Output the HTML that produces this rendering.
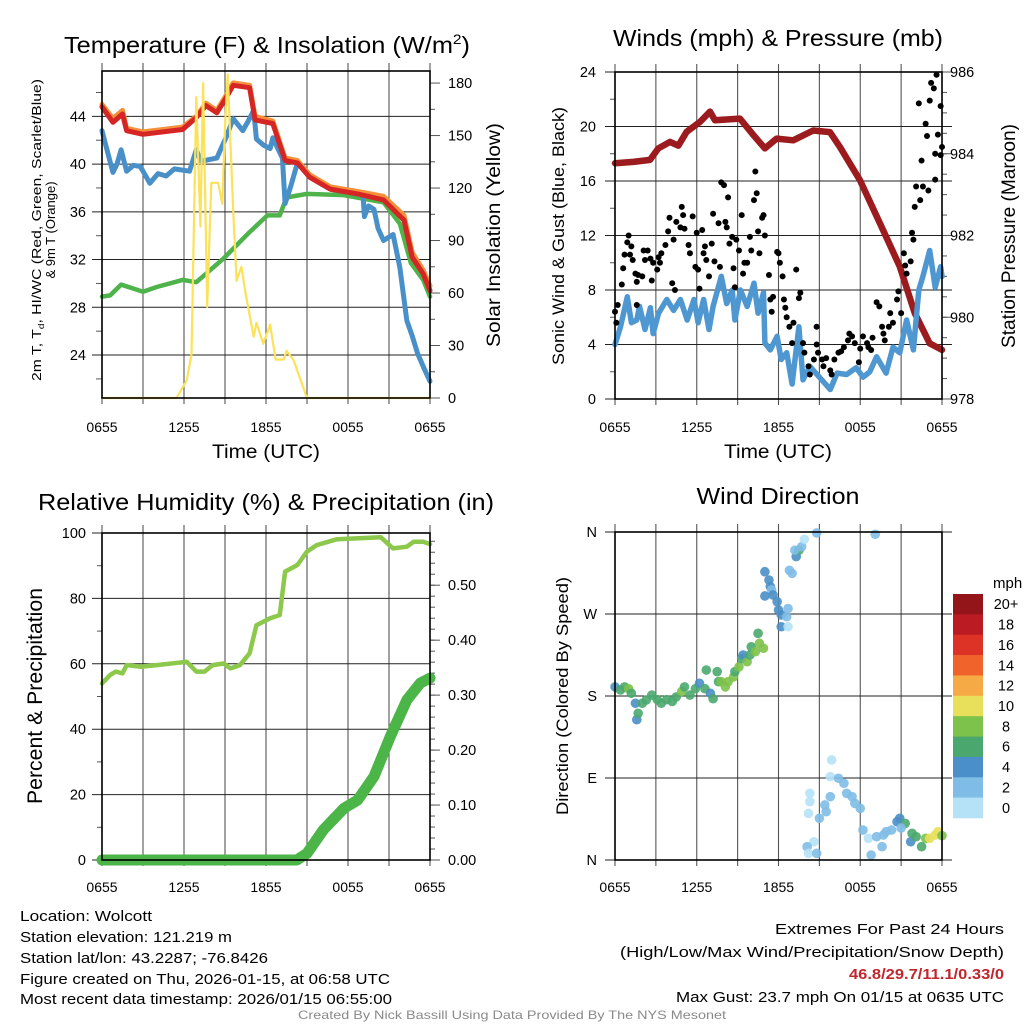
<!DOCTYPE html>
<html><head><meta charset="utf-8"><style>
html,body{margin:0;padding:0;background:#fff;}
svg{display:block;font-family:"Liberation Sans",sans-serif;}
</style></head><body>
<svg id="fig" xmlns="http://www.w3.org/2000/svg" width="1024" height="1024" viewBox="0 0 1024 1024">
<rect x="0" y="0" width="1024" height="1024" fill="#fff"/>
<g id="layer"></g>
<text x="267" y="53" font-size="23" text-anchor="middle" textLength="406" lengthAdjust="spacingAndGlyphs">Temperature (F) &amp; Insolation (W/m<tspan font-size="14" dy="-9">2</tspan><tspan dy="9">)</tspan></text>
<text x="778" y="46" font-size="23" text-anchor="middle" textLength="330" lengthAdjust="spacingAndGlyphs">Winds (mph) &amp; Pressure (mb)</text>
<text x="266" y="510" font-size="23" text-anchor="middle" textLength="456" lengthAdjust="spacingAndGlyphs">Relative Humidity (%) &amp; Precipitation (in)</text>
<text x="778" y="504" font-size="23" text-anchor="middle" textLength="163" lengthAdjust="spacingAndGlyphs">Wind Direction</text>
<text x="266" y="458" font-size="19" text-anchor="middle" textLength="108" lengthAdjust="spacingAndGlyphs">Time (UTC)</text>
<text x="778" y="458" font-size="19" text-anchor="middle" textLength="108" lengthAdjust="spacingAndGlyphs">Time (UTC)</text>
<text transform="translate(41,230) rotate(-90)" font-size="12.5" text-anchor="middle" textLength="302" lengthAdjust="spacingAndGlyphs">2m T, T<tspan font-size="8" dy="3">d</tspan><tspan dy="-3">, HI/WC (Red, Green, Scarlet/Blue)</tspan></text>
<text transform="translate(55,230) rotate(-90)" font-size="13" text-anchor="middle">&amp; 9m T (Orange)</text>
<text transform="translate(500,235) rotate(-90)" font-size="19" text-anchor="middle" textLength="224" lengthAdjust="spacingAndGlyphs">Solar Insolation (Yellow)</text>
<text transform="translate(564,236) rotate(-90)" font-size="17" text-anchor="middle" textLength="258" lengthAdjust="spacingAndGlyphs">Sonic Wind &amp; Gust (Blue, Black)</text>
<text transform="translate(1015,236) rotate(-90)" font-size="19" text-anchor="middle" textLength="224" lengthAdjust="spacingAndGlyphs">Station Pressure (Maroon)</text>
<text transform="translate(42,696) rotate(-90)" font-size="21" text-anchor="middle" textLength="216" lengthAdjust="spacingAndGlyphs">Percent &amp; Precipitation</text>
<text transform="translate(568,696) rotate(-90)" font-size="17" text-anchor="middle" textLength="238" lengthAdjust="spacingAndGlyphs">Direction (Colored By Speed)</text>
<text x="993" y="588" font-size="15">mph</text>
<g font-size="14.5" fill="#000">
<text x="20" y="921" textLength="132" lengthAdjust="spacingAndGlyphs">Location: Wolcott</text>
<text x="20" y="942" textLength="212" lengthAdjust="spacingAndGlyphs">Station elevation: 121.219 m</text>
<text x="20" y="963" textLength="248" lengthAdjust="spacingAndGlyphs">Station lat/lon: 43.2287; -76.8426</text>
<text x="20" y="984" textLength="370" lengthAdjust="spacingAndGlyphs">Figure created on Thu, 2026-01-15, at 06:58 UTC</text>
<text x="20" y="1004" textLength="372" lengthAdjust="spacingAndGlyphs">Most recent data timestamp: 2026/01/15 06:55:00</text>
</g>
<g font-size="14.5" text-anchor="end">
<text x="1004" y="934" textLength="229" lengthAdjust="spacingAndGlyphs">Extremes For Past 24 Hours</text>
<text x="1004" y="957" textLength="384" lengthAdjust="spacingAndGlyphs">(High/Low/Max Wind/Precipitation/Snow Depth)</text>
<text x="1004" y="979" font-weight="bold" fill="#c0272d" textLength="155" lengthAdjust="spacingAndGlyphs">46.8/29.7/11.1/0.33/0</text>
<text x="1004" y="1002" textLength="328" lengthAdjust="spacingAndGlyphs">Max Gust: 23.7 mph On 01/15 at 0635 UTC</text>
</g>
<text x="512" y="1019" font-size="12" fill="#8a8a8a" text-anchor="middle" textLength="428" lengthAdjust="spacingAndGlyphs">Created By Nick Bassill Using Data Provided By The NYS Mesonet</text>
</svg>
<script>
// ---------- data ----------
var timeTickLabels = ["0655","1255","1855","0055","0655"];
var tempTicks = [24,28,32,36,40,44];
var solarTicks = [0,30,60,90,120,150,180];
var windTicks = [0,4,8,12,16,20,24];
var presTicks = [978,980,982,984,986];
var rhTicks = [0,20,40,60,80,100];
var precipTicks = [0.00,0.10,0.20,0.30,0.40,0.50];
var dirTickLabels = ["N","E","S","W","N"];
var dirTicks = [0,90,180,270,360];
var speedBinLabels = ["0","2","4","6","8","10","12","14","16","18","20+"];
var speedColors = ["#b5e2f7","#7fbce6","#4a8fc7","#4aa86e","#7dc24a","#e8e05a","#f6aa45","#f0632a","#dc3326","#bb1b22","#931519"];

var tempT = [0,0.8,1.5,1.8,3,5.9,6.9,7.6,8.4,9.1,9.6,10.8,11.2,12.5,13.4,14.3,15.2,16.7,18.7,20.6,22.1,22.7,23.5,24];
var tempV = [44.8,43.5,44.2,42.8,42.5,42.9,43.9,44.9,44.3,45.6,46.6,46.4,43.7,43.4,40.3,40.1,38.9,37.9,37.5,37.0,35.3,32.2,30.8,29.4];
var temp9T = [0,0.8,1.5,1.8,3,5.9,6.9,7.6,8.4,9.1,9.6,10.8,11.2,12.5,13.4,14.3,15.2,16.7,18.7,20.6,22.1,22.7,23.5,24];
var temp9V = [45.0,43.8,44.5,43.0,42.7,43.1,44.0,45.1,44.5,45.8,46.8,46.6,44.0,43.6,40.5,40.3,39.1,38.1,37.7,37.3,35.7,32.6,31.1,29.8];
var chillT = [0,0.8,1.1,1.4,1.8,2.3,2.8,3.5,4.1,4.7,5.3,6.4,6.9,7.2,7.5,8.4,9.1,9.6,10.3,10.7,11.1,11.3,11.8,12.3,12.5,13.2,13.4,13.8,14.3,15.2,16.7,18.7,19.1,19.2,19.5,19.9,20.2,20.6,21.3,21.5,21.8,22.3,22.7,23.1,23.6,24];
var chillV = [42.8,39.3,40.0,41.2,39.4,39.9,39.8,38.4,39.2,39.0,39.6,39.4,41.2,40.3,40.3,40.5,42.3,43.8,42.8,43.6,44.5,42.1,41.6,41.3,42.2,40.5,36.7,38.1,40.1,38.9,37.9,37.5,37.4,35.6,36.5,36.2,34.6,33.6,34.1,33.0,31.3,26.9,25.6,24.1,22.8,21.8];
var dewT = [0,0.6,1.4,3.0,4.0,5.9,6.9,8.9,10.8,12.1,13.0,13.5,15.0,17.7,20.6,21.8,22.6,23.5,24];
var dewV = [28.9,29.0,29.9,29.3,29.7,30.3,30.1,32.1,34.3,35.7,35.7,37.2,37.5,37.4,36.8,35.0,31.7,30.3,28.9];
var solarT = [0,5.45,6.2,6.55,6.9,7.2,7.4,7.7,8.0,8.5,8.8,9.0,9.2,9.6,9.85,10.2,10.5,11.1,11.3,11.8,12.3,12.7,13.3,13.5,14.0,15.0,24];
var solarV = [0,0,10,25,172,98,180,52,123,123,111,155,185,107,67,75,60,35,43,31,42,22,22,27,22,0,0];

var presT = [0,1.34,2.57,3.18,4.03,4.65,5.26,6.24,6.97,7.33,9.17,10.15,11.0,11.86,13.08,14.55,15.77,16.5,17.97,19.44,20.9,22.0,23.1,24];
var presV = [983.77,983.8,983.85,984.13,984.29,984.2,984.54,984.78,985.03,984.82,984.86,984.46,984.13,984.37,984.33,984.57,984.53,984.17,983.36,982.3,981.24,980.1,979.36,979.2];
var windT = [0,0.4,0.9,1.2,1.6,1.8,2.2,2.6,2.8,3.2,3.8,4.3,4.8,5.3,5.8,6.1,6.5,6.9,7.2,7.8,8.2,8.6,8.8,9.2,9.7,10.2,10.5,10.9,11.0,11.4,11.9,12.2,12.6,13.0,13.5,13.8,14.3,15.0,15.8,16.3,17.0,17.7,18.2,18.7,19.2,19.9,20.4,20.9,21.4,21.9,22.3,22.6,23.1,23.5,23.9,24];
var windV = [4.0,5.3,7.5,5.6,5.8,6.8,5.1,6.7,4.8,6.3,7.3,6.5,7.3,5.8,7.3,5.6,7.3,5.1,6.8,9.0,7.0,8.0,5.8,8.0,6.8,8.5,6.3,7.8,4.1,3.6,4.6,2.9,3.4,1.1,5.3,1.4,2.4,1.6,0.7,1.9,1.8,2.3,1.6,2.0,3.1,1.9,3.8,3.4,5.8,3.6,8.0,9.0,10.9,8.2,9.7,9.0];
var gustT = [0,0.1,0.2,0.5,0.6,0.7,0.9,1.0,1.1,1.2,1.3,1.5,1.6,1.6,1.7,2.0,2.1,2.2,2.4,2.6,2.7,2.8,3.1,3.2,3.3,3.4,3.7,3.9,4.0,4.2,4.3,4.4,4.5,4.8,4.9,5.0,5.1,5.4,5.5,5.7,5.9,6.0,6.1,6.2,6.4,6.5,6.6,6.7,6.9,7.1,7.2,7.3,7.6,7.7,7.8,8.0,8.1,8.2,8.3,8.4,8.6,8.7,8.8,8.9,9.1,9.3,9.4,9.5,9.7,9.9,10.0,10.2,10.3,10.4,10.5,10.6,10.8,10.9,11.0,11.3,11.4,11.5,11.6,11.9,12.0,12.1,12.3,12.4,12.5,12.6,12.8,13.0,13.1,13.3,13.5,13.6,13.8,13.9,14.2,14.3,14.6,14.8,14.8,14.9,15.2,15.3,15.5,15.8,15.9,16.1,16.4,16.6,16.8,17.1,17.2,17.4,17.6,17.9,18.0,18.2,18.5,18.6,18.8,18.9,19.2,19.4,19.6,19.7,19.8,20.1,20.2,20.4,20.7,20.8,21.0,21.2,21.3,21.4,21.7,21.8,21.9,22.0,22.1,22.4,22.5,22.6,22.8,22.9,23.0,23.1,23.2,23.4,23.5,23.6,23.7,23.9,24.0,23.9,22.3,23.5];
var gustV = [6.4,5.6,6.9,8.4,9.6,10.6,11.5,12.0,10.6,11.2,10.2,9.2,8.6,6.9,9.1,9.0,10.9,10.2,10.9,10.3,8.7,10.0,9.5,10.4,10.0,10.7,11.3,12.3,13.3,8.5,11.7,8.0,13.0,12.6,14.1,13.5,12.5,11.3,10.7,13.4,9.7,12.2,9.5,8.1,12.4,10.7,11.2,10.2,9.0,11.4,13.6,10.1,12.9,9.7,15.9,15.7,13.0,12.6,14.8,11.4,11.9,9.6,8.2,11.7,10.9,13.5,9.2,10.0,10.0,11.9,10.9,14.6,16.7,15.1,12.3,10.7,13.3,13.5,12.0,9.1,7.3,6.4,7.5,10.8,10.7,10.0,9.0,7.3,6.7,6.0,5.3,4.1,5.6,9.5,7.4,7.8,4.1,3.4,2.4,1.8,2.9,5.3,4.0,3.4,2.9,2.4,3.0,2.1,1.8,2.9,3.4,3.5,3.8,4.3,4.8,4.6,4.1,2.7,3.7,4.6,4.1,3.8,3.6,4.5,7.1,6.8,5.3,4.8,4.3,5.3,6.3,5.6,7.3,7.9,6.3,10.7,9.8,9.2,10.1,12.2,11.7,14.1,15.6,14.6,17.5,15.6,20.2,19.3,15.3,21.9,23.2,22.8,16.1,23.8,19.4,17.9,18.5,21.5,21.7,18.0];

var rhT = [0,0.6,1.0,1.5,1.8,2.8,4.0,6.2,6.9,7.5,8.1,8.9,9.4,10.1,10.8,11.3,12.3,13.0,13.4,14.3,15.0,15.7,17.2,20.4,21.3,22.3,22.8,23.5,24.0];
var rhV = [54.0,56.6,57.6,57.1,59.6,59.1,59.6,60.6,57.6,57.6,59.6,60.1,58.6,59.6,63.2,71.8,73.9,74.9,88.2,90.2,94.3,96.3,98.1,98.7,95.3,95.8,97.3,97.3,96.6];
var precipT = [0,14.25,15.0,16.2,17.7,18.7,19.9,21.1,22.3,23.3,24];
var precipV = [0,0,0.012,0.055,0.094,0.109,0.152,0.225,0.291,0.322,0.331];

var dirT = [0,0.4,0.7,1.0,1.2,1.5,1.6,1.7,2.0,2.3,2.7,3.1,3.4,3.8,4.2,4.5,4.9,5.1,5.5,5.9,6.2,6.6,7.0,7.2,6.7,7.5,7.6,7.8,8.1,8.3,8.7,8.8,9.1,9.3,9.4,9.7,9.9,10.0,10.3,10.5,10.6,10.9,11.0,11.3,11.4,11.5,11.6,11.9,12.0,12.2,12.2,12.7,12.6,12.7,11.0,13.0,12.8,13.3,13.5,13.2,13.7,13.9,14.8,19.1,15.9,15.8,16.4,16.8,17.0,17.4,17.6,18.0,15.8,15.4,15.5,15.0,14.3,14.3,14.2,14.6,14.1,14.2,14.8,18.2,18.6,18.8,19.2,19.7,19.9,20.3,19.6,20.7,20.9,21.3,21.8,21.7,22.1,22.5,22.8,23.1,23.5,23.7,24.0,21.0];
var dirV = [190,186.6,190,188,183,172,154,161,172,175.6,181,176,172,176,174,179,185,190,181,188,194,188,183,177,208.5,206.7,195.7,195.7,190,195.7,201,206.7,212,221,225,217.6,225,234,228.6,248.8,237.8,232.4,316.4,307.3,300,296.4,290.9,283.5,274.4,269,256,276,267,256,289.8,314.6,318,333,340,340,343.9,352,359,357.5,109.8,91.5,89.7,84.2,73.2,69.5,62.2,56.7,69.5,60.4,53,45.8,73.2,64,51.2,20,14.6,7.3,7.3,32.9,23.8,5.5,25.6,27.4,31.1,32.9,14.6,42,45.8,40.2,29.3,20,25.6,14.6,23.8,23.8,27.4,31.1,26.7,35];
var dirSpeed = [5,7,7,9,7,5,5,7,7,7,7,7,7,7,7,7,9,7,7,7,5,7,5,7,7,7,7,9,9,9,9,7,9,7,5,9,7,7,9,7,9,9,5,5,5,3,5,5,5,5,5,3,3,1,5,3,3,5,7,3,3,1,3,3,1,1,3,3,3,3,3,3,3,3,3,3,1,1,1,1,3,1,3,3,1,3,3,3,3,3,3,5,5,7,7,5,7,7,9,11,11,11,9,3];

// ---------- helpers ----------
var NS = "http://www.w3.org/2000/svg";
var layer = document.getElementById("layer");
function mk(tag, attrs, parent) {
  var e = document.createElementNS(NS, tag);
  for (var k in attrs) e.setAttribute(k, attrs[k]);
  (parent || layer).appendChild(e);
  return e;
}
function lin(d0, d1, r0, r1) { return function (v) { return r0 + (v - d0) / (d1 - d0) * (r1 - r0); }; }

var panels = {
  temp:  {x0:102, x1:430, y0:71,  y1:398},
  wind:  {x0:615, x1:942, y0:72,  y1:399},
  rh:    {x0:102, x1:430, y0:533, y1:860},
  dir:   {x0:615, x1:942, y0:532, y1:860}
};

function frame(p, name) {
  var g = mk("g", {});
  
  
  var xs = lin(0, 24, p.x0, p.x1);
  for (var h = 0; h <= 24; h += 3) {
    var l = mk("line", {x1: xs(h), x2: xs(h), y1: p.y0 - 8, y2: p.y1 + 6, stroke: "#555", "stroke-width": 1.1}, g);
    
    
  }
  return xs;
}
function hgrid(p, ys, ticks, name, leftExt, rightExt) {
  for (var i = 0; i < ticks.length; i++) {
    var y = ys(ticks[i]);
    var l = mk("line", {x1: p.x0 - leftExt, x2: p.x1 + rightExt, y1: y, y2: y, stroke: "#222", "stroke-width": 1});
    
    
  }
}
function minorTicks(x, ys, d0, d1, step, dir, len) {
  for (var v = d0; v <= d1 + 1e-9; v += step) {
    var y = ys(v);
    var l = mk("line", {x1: x, x2: x + dir * len, y1: y, y2: y, stroke: "#555", "stroke-width": 1});
    
    
  }
}
function labels(arr, vals, ys, x, anchor, name) {
  for (var i = 0; i < arr.length; i++) {
    var t = mk("text", {x: x, y: ys(vals[i]) + 5, "font-size": 14.5, "text-anchor": anchor});
    t.textContent = arr[i];
    
    
  }
}
function xLabels(p, xs, y, name) {
  for (var i = 0; i < timeTickLabels.length; i++) {
    var t = mk("text", {x: xs(i * 6), y: y, "font-size": 14, "text-anchor": "middle"});
    t.textContent = timeTickLabels[i];
    
    
  }
}
function box(p, name) {
  var r = mk("rect", {x: p.x0, y: p.y0, width: p.x1 - p.x0, height: p.y1 - p.y0, fill: "none", stroke: "#000", "stroke-width": 1.6});
  
  
}
function line(ts, vs, xs, ys, color, w, name, cap) {
  var pts = [];
  for (var i = 0; i < ts.length; i++) pts.push(xs(ts[i]).toFixed(1) + "," + ys(vs[i]).toFixed(1));
  var pl = mk("polyline", {points: pts.join(" "), fill: "none", stroke: color, "stroke-width": w, "stroke-linejoin": "round", "stroke-linecap": cap || "round"});
  
  
}
function toStr(v, d) { return v.toFixed(d); }

// ---------- Panel 1: temperature ----------
(function () {
  var p = panels.temp;
  var xs = frame(p, "temp");
  var ys = lin(20.4, 47.8, p.y1, p.y0);
  var ys2 = lin(0, 186.9, p.y1, p.y0);
  hgrid(p, ys, tempTicks, "temp-horizontal", 10, 0);
  minorTicks(p.x0, ys, 22, 46, 4, -1, 6);
  minorTicks(p.x1, ys2, 0, 180, 30, 1, 10);
  minorTicks(p.x1, ys2, 15, 180, 30, 1, 5);
  line(dewT, dewV, xs, ys, "#4db34a", 4.5, "dewpoint-line");
  line(chillT, chillV, xs, ys, "#4a90c8", 5, "wind-chill-line");
  line(temp9T, temp9V, xs, ys, "#f4913a", 5, "9m-temperature-line");
  line(tempT, tempV, xs, ys, "#d62525", 5, "2m-temperature-line");
  line(solarT, solarV, xs, ys2, "#fbe25a", 2.2, "solar-insolation-line");
  box(p, "temp");
  labels(tempTicks.map(String), tempTicks, ys, 86, "end", "temp-y");
  labels(solarTicks.map(String), solarTicks, ys2, 448, "start", "solar-y2");
  xLabels(p, xs, 432, "temp");
})();

// ---------- Panel 2: winds & pressure ----------
(function () {
  var p = panels.wind;
  var xs = frame(p, "wind");
  var ys = lin(0, 24, p.y1, p.y0);
  var ys2 = lin(978, 986, p.y1, p.y0);
  hgrid(p, ys, windTicks, "wind-horizontal", 10, 10);
  minorTicks(p.x0, ys, 2, 22, 4, -1, 5);
  minorTicks(p.x1, ys2, 978, 986, 2, 1, 10);
  minorTicks(p.x1, ys2, 978.5, 986, 0.5, 1, 5);
  line(presT, presV, xs, ys2, "#9b1b1e", 6.5, "station-pressure-line");
  line(windT, windV, xs, ys, "#4f97d0", 5.5, "sonic-wind-line");
  for (var i = 0; i < gustT.length; i++) {
    var c = mk("circle", {cx: xs(gustT[i]), cy: ys(gustV[i]), r: 3, fill: "#000"});
    
    
  }
  box(p, "wind");
  labels(windTicks.map(String), windTicks, ys, 596, "end", "wind-y");
  labels(presTicks.map(String), presTicks, ys2, 950, "start", "pressure-y2");
  xLabels(p, xs, 432, "wind");
})();

// ---------- Panel 3: RH & precip ----------
(function () {
  var p = panels.rh;
  var xs = frame(p, "rh");
  var ys = lin(0, 100, p.y1, p.y0);
  var ys2 = lin(0, 0.595, p.y1, p.y0);
  hgrid(p, ys, rhTicks, "rh-horizontal", 10, 0);
  minorTicks(p.x0, ys, 10, 90, 20, -1, 5);
  minorTicks(p.x1, ys2, 0, 0.5, 0.1, 1, 10);
  minorTicks(p.x1, ys2, 0.02, 0.58, 0.02, 1, 5);
  line(rhT, rhV, xs, ys, "#8cc84b", 4.5, "relative-humidity-line");
  line(precipT, precipV, xs, ys2, "#4cb548", 11, "precipitation-line");
  box(p, "rh");
  labels(rhTicks.map(String), rhTicks, ys, 86, "end", "rh-y");
  labels(precipTicks.map(function (v) { return toStr(v, 2); }), precipTicks, ys2, 448, "start", "precip-y2");
  xLabels(p, xs, 892, "rh");
})();

// ---------- Panel 4: wind direction ----------
(function () {
  var p = panels.dir;
  var xs = frame(p, "dir");
  var ys = lin(0, 360, p.y1, p.y0);
  hgrid(p, ys, dirTicks, "dir-horizontal", 10, 10);
  for (var i = 0; i < dirT.length; i++) {
    var bin = Math.min(10, Math.floor(dirSpeed[i] / 2));
    var c = mk("circle", {cx: xs(dirT[i]), cy: ys(dirV[i]), r: 4.8, fill: speedColors[bin], "fill-opacity": 0.9});
    
    
  }
  box(p, "dir");
  labels(dirTickLabels, dirTicks, ys, 597, "end", "dir-y");
  xLabels(p, xs, 892, "dir");
  // colorbar
  var cb0 = 594, cbH = 224 / speedColors.length;
  for (var k = 0; k < speedColors.length; k++) {
    var idx = speedColors.length - 1 - k;
    var r = mk("rect", {x: 953, y: cb0 + k * cbH, width: 30, height: cbH + 0.3, fill: speedColors[idx]});
    
    
    var t = mk("text", {x: 1006, y: cb0 + k * cbH + cbH / 2 + 5, "font-size": 14.5, "text-anchor": "middle"});
    t.textContent = speedBinLabels[idx];
    
    
  }
})();
</script>
</body></html>
